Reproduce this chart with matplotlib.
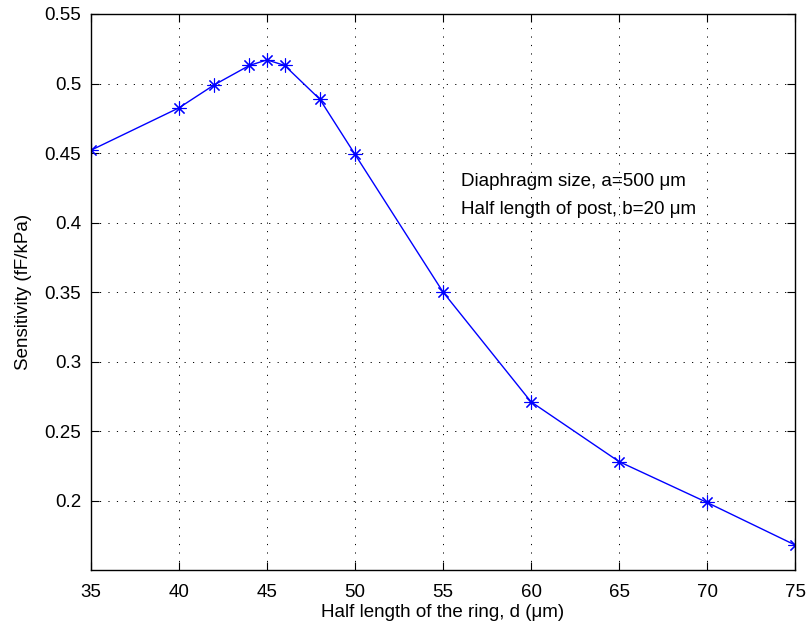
import matplotlib
matplotlib.use("Agg")
import matplotlib.pyplot as plt
from matplotlib import font_manager

d_um = [35, 40, 42, 44, 45, 46, 48, 50, 55, 60, 65, 70, 75]
sensitivity = [0.452, 0.4825, 0.499, 0.513, 0.517, 0.513, 0.4887, 0.449,
               0.350, 0.271, 0.228, 0.1986, 0.168]
x_ticks = [35, 40, 45, 50, 55, 60, 65, 70, 75]
y_ticks = [0.2, 0.25, 0.3, 0.35, 0.4, 0.45, 0.5, 0.55]
y_ticklabels = ["0.2", "0.25", "0.3", "0.35", "0.4", "0.45", "0.5", "0.55"]
annotation = ["Diaphragm size, a=500 μm", "Half length of post, b=20 μm"]

names = {f.name for f in font_manager.fontManager.ttflist}
fam = [f for f in ["Liberation Sans", "DejaVu Sans"] if f in names]
plt.rcParams['font.family'] = fam

fig = plt.figure(figsize=(8.08, 6.31), dpi=100)
ax = fig.add_axes([91/808, 1-570/631, (795-91)/808, (570-14)/631])

ax.plot(d_um, sensitivity, color='#0000ff', lw=1.0, marker=(8, 2, 0), ms=10, mew=0.8)

ax.set_xlim(35, 75)
ax.set_ylim(0.15, 0.55)
ax.set_xticks(x_ticks)
ax.set_yticks(y_ticks)
ax.set_yticklabels(y_ticklabels)
ax.grid(True, color='black', linestyle=(0, (1.2, 7.5)), linewidth=0.7)
ax.tick_params(direction='in', top=True, right=True, length=6, width=0.8,
               labelsize=13.5)
ax.tick_params(axis='x', pad=10)
ax.tick_params(axis='y', pad=7)
for s in ax.spines.values():
    s.set_linewidth(1.0)

ax.set_xlabel("Half length of the ring, d (μm)", fontsize=13.5, labelpad=2)
ax.set_ylabel("Sensitivity (fF/kPa)", fontsize=13.5, labelpad=9)

ax.text(56.0, 0.4295, annotation[0], fontsize=13.5, va='center', ha='left')
ax.text(56.0, 0.4095, annotation[1], fontsize=13.5, va='center', ha='left')

fig.savefig("out.png", dpi=100)
